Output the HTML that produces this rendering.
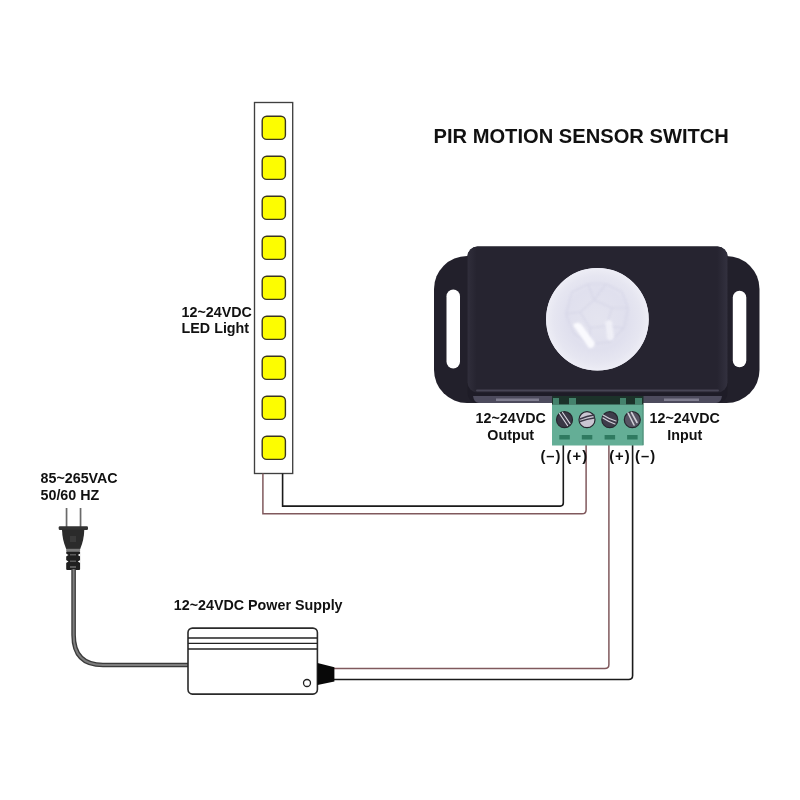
<!DOCTYPE html>
<html><head><meta charset="utf-8">
<style>
html,body{margin:0;padding:0;background:#fff;width:800px;height:800px;overflow:hidden}
svg{display:block;will-change:transform}
text{font-family:"Liberation Sans",sans-serif;font-weight:bold;fill:#111}
</style></head><body>
<svg width="800" height="800" viewBox="0 0 800 800">
<defs>
  <filter id="blur1" x="-20%" y="-20%" width="140%" height="140%"><feGaussianBlur stdDeviation="1"/></filter>
  <filter id="blur05" x="-20%" y="-20%" width="140%" height="140%"><feGaussianBlur stdDeviation="0.5"/></filter>
  <radialGradient id="dome" cx="0.5" cy="0.5" r="0.5">
    <stop offset="0" stop-color="#e4e4ef"/>
    <stop offset="0.6" stop-color="#e0e0ee"/>
    <stop offset="0.85" stop-color="#e6e6f1"/>
    <stop offset="1" stop-color="#ededf5"/>
  </radialGradient>
  <linearGradient id="bodyg" x1="0" y1="0" x2="1" y2="0">
    <stop offset="0" stop-color="#302e3b"/>
    <stop offset="0.035" stop-color="#262430"/>
    <stop offset="0.96" stop-color="#262430"/>
    <stop offset="1" stop-color="#33313f"/>
  </linearGradient>
</defs>

<!-- Title -->
<text transform="translate(433.5 143.2) scale(1 1.04)" font-size="20.15">PIR MOTION SENSOR SWITCH</text>

<!-- LED strip -->
<rect x="254.5" y="102.5" width="38.2" height="371" fill="#fff" stroke="#404040" stroke-width="1.35"/>
<g fill="#fdfd00" stroke="#3a3520" stroke-width="1.4">
  <rect x="262.2" y="116.2" width="23.2" height="23.2" rx="4.5"/>
  <rect x="262.2" y="156.2" width="23.2" height="23.2" rx="4.5"/>
  <rect x="262.2" y="196.2" width="23.2" height="23.2" rx="4.5"/>
  <rect x="262.2" y="236.2" width="23.2" height="23.2" rx="4.5"/>
  <rect x="262.2" y="276.2" width="23.2" height="23.2" rx="4.5"/>
  <rect x="262.2" y="316.2" width="23.2" height="23.2" rx="4.5"/>
  <rect x="262.2" y="356.2" width="23.2" height="23.2" rx="4.5"/>
  <rect x="262.2" y="396.2" width="23.2" height="23.2" rx="4.5"/>
  <rect x="262.2" y="436.2" width="23.2" height="23.2" rx="4.5"/>
</g>
<text transform="translate(181.6 316.6) scale(1 1.04)" font-size="14.3">12~24VDC</text>
<text transform="translate(181.6 333.1) scale(1 1.04)" font-size="14.3">LED Light</text>

<!-- wires from strip -->
<path d="M262.9 473.5 V513.8 H582 Q586.1 513.8 586.1 509.7 V445" fill="none" stroke="#80595d" stroke-width="1.5"/>
<path d="M282.6 473.5 V506.1 H560.3 Q563.3 506.1 563.3 503.1 V445" fill="none" stroke="#1a1a1a" stroke-width="1.6"/>

<!-- wires to PSU -->
<path d="M608.9 445 V664.5 Q608.9 668.5 604.9 668.5 H334" fill="none" stroke="#80595d" stroke-width="1.5"/>
<path d="M632.6 445 V675.5 Q632.6 679.5 628.6 679.5 H334" fill="none" stroke="#1a1a1a" stroke-width="1.6"/>

<!-- terminal labels -->
<text transform="translate(540.4 460.8) scale(1 1.04)" font-size="14.8" letter-spacing="1">(–)</text>
<text transform="translate(566.6 460.8) scale(1 1.04)" font-size="14.8" letter-spacing="1">(+)</text>
<text transform="translate(609.2 460.8) scale(1 1.04)" font-size="14.8" letter-spacing="1">(+)</text>
<text transform="translate(635.1 460.8) scale(1 1.04)" font-size="14.8" letter-spacing="1">(–)</text>

<text transform="translate(510.7 423.3) scale(1 1.04)" font-size="14.3" text-anchor="middle">12~24VDC</text>
<text transform="translate(510.7 439.6) scale(1 1.04)" font-size="14.3" text-anchor="middle">Output</text>
<text transform="translate(684.7 423.3) scale(1 1.04)" font-size="14.3" text-anchor="middle">12~24VDC</text>
<text transform="translate(684.7 439.6) scale(1 1.04)" font-size="14.3" text-anchor="middle">Input</text>

<!-- Sensor -->
<rect x="434" y="256" width="325.5" height="147" rx="33" fill="#22202b"/>
<rect x="446.5" y="289.6" width="13.5" height="78.8" rx="6.75" fill="#fff"/>
<rect x="732.8" y="290.8" width="13.5" height="76.5" rx="6.75" fill="#fff"/>
<rect x="467.5" y="246.5" width="260" height="156.5" rx="10" fill="#1e1c27"/>
<rect x="467.5" y="246.5" width="260" height="146" rx="10" fill="url(#bodyg)"/>
<rect x="476" y="389.6" width="243" height="2" rx="1" fill="#464454" filter="url(#blur05)"/>
<path d="M473 396 H722 Q721 403 716 403 H479 Q474 403 473 396 Z" fill="#4d4b5d"/>
<g fill="#8e8c9e" opacity="0.8" filter="url(#blur05)">
  <rect x="496" y="398.5" width="43" height="2.5"/>
  <rect x="664" y="398.5" width="35" height="2.5"/>
</g>
<circle cx="597.4" cy="319.2" r="51.3" fill="url(#dome)"/>
<circle cx="597.4" cy="319.2" r="50.3" fill="none" stroke="#ececf5" stroke-width="2"/>
<g fill="none" stroke="#cfcfe2" stroke-width="1.6" opacity="0.45" filter="url(#blur1)">
  <path d="M572 292 L588 284 L606 284 L622 292 L628 308 L624 328 L610 342 L590 344 L574 334 L566 314 Z"/>
  <path d="M588 284 L594 300 L606 284 M594 300 L580 312 L566 314 M594 300 L612 308 L628 308 M612 308 L606 326 L624 328 M606 326 L590 328 L580 312 M590 328 L590 344 M606 326 L610 342"/>
</g>
<path d="M573 325 Q577 321 581 324 L595 343 Q594 349 589 348 Z" fill="#fcfcff" opacity="0.95" filter="url(#blur1)"/>
<path d="M605 322 Q609 318 612 322 L614 338 Q611 343 607 339 Z" fill="#f4f4fa" opacity="0.8" filter="url(#blur1)"/>

<!-- Terminal block -->
<rect x="552" y="396" width="91.5" height="9" fill="#1c322a"/>
<g fill="#44826c">
  <rect x="553" y="398" width="6" height="6.5"/>
  <rect x="569" y="398" width="7" height="6.5"/>
  <rect x="620" y="398" width="6" height="6.5"/>
  <rect x="635" y="398" width="7" height="6.5"/>
</g>
<rect x="552" y="404.5" width="91.5" height="41" fill="#64ae96"/>
<line x1="643" y1="405" x2="643" y2="445" stroke="#4a8a74" stroke-width="1"/>
<g stroke="#26262e" stroke-width="1.2">
  <circle cx="564.5" cy="419.7" r="8" fill="#3a3846"/>
  <circle cx="587" cy="419.7" r="8" fill="#cac6d2"/>
  <circle cx="609.8" cy="419.7" r="8" fill="#3e3c4a"/>
  <circle cx="632.3" cy="419.7" r="8" fill="#555362"/>
</g>
<g fill="none" stroke-linecap="round" filter="url(#blur05)">
  <path d="M559.5 413.5 L567.5 425.5 M562.5 412.5 L570 423.5" stroke="#d8d6e0" stroke-width="1.2"/>
  <path d="M580 419 Q587 416 594 415 M580 421.5 Q587 419 594 418" stroke="#3a3846" stroke-width="1.5"/>
  <path d="M603 415 Q609 419 616 421 M603 418 Q609 422 615 424" stroke="#d0ced8" stroke-width="1.2"/>
  <path d="M628 413 L634 425 M631.5 412.5 L637 422.5" stroke="#cfcdd6" stroke-width="1.6"/>
</g>
<g fill="#2f7a60">
  <rect x="559.3" y="435" width="10.5" height="4.5"/>
  <rect x="581.8" y="435" width="10.5" height="4.5"/>
  <rect x="604.6" y="435" width="10.5" height="4.5"/>
  <rect x="627.1" y="435" width="10.5" height="4.5"/>
</g>

<!-- AC label -->
<text transform="translate(40.5 483) scale(1 1.04)" font-size="14.3">85~265VAC</text>
<text transform="translate(40.5 499.8) scale(1 1.04)" font-size="14.3">50/60 HZ</text>

<!-- plug -->
<rect x="65.7" y="508" width="1.7" height="19" fill="#6a6a6a"/>
<rect x="79.7" y="508" width="1.7" height="19" fill="#6a6a6a"/>
<rect x="58.7" y="526.3" width="29.3" height="3.6" rx="1.2" fill="#333"/>
<path d="M62 529.8 H84.3 Q84 540 80.2 549 H66.2 Q62.3 540 62 529.8 Z" fill="#2b2b2b"/>
<rect x="70" y="536" width="6" height="6" fill="#3a3a3a"/>
<rect x="66.2" y="548.8" width="13.9" height="2.8" fill="#7a7a7a"/>
<rect x="66.2" y="551.5" width="13.9" height="18.5" rx="1" fill="#1f1f1f"/>
<g fill="#fff">
  <path d="M66 553.5 L68.5 555 L66 556.5 Z"/>
  <path d="M80.3 553.5 L77.8 555 L80.3 556.5 Z"/>
  <path d="M66 560 L68.5 561.5 L66 563 Z"/>
  <path d="M80.3 560 L77.8 561.5 L80.3 563 Z"/>
</g>
<g fill="#5a5a5a">
  <rect x="70" y="554" width="6" height="1.5"/>
  <rect x="70" y="560.5" width="6" height="1.5"/>
  <rect x="70" y="566" width="6" height="2"/>
</g>

<!-- cord -->
<path d="M73.6 569 V635 Q73.6 665 103 665 H188" fill="none" stroke="#3a3a3a" stroke-width="4.6"/>
<path d="M73.6 569 V635 Q73.6 665 103 665 H188" fill="none" stroke="#7d7d7d" stroke-width="2"/>

<!-- PSU -->
<text transform="translate(173.8 610.2) scale(1 1.04)" font-size="14.3">12~24VDC Power Supply</text>
<rect x="188" y="628.1" width="129.4" height="66" rx="4.5" fill="#fff" stroke="#2a2a2a" stroke-width="1.6"/>
<g stroke="#222" stroke-width="1.4">
  <line x1="188" y1="638" x2="317" y2="638"/>
  <line x1="188" y1="643.4" x2="317" y2="643.4"/>
  <line x1="188" y1="649" x2="317" y2="649"/>
</g>
<circle cx="307" cy="683" r="3.5" fill="#fff" stroke="#222" stroke-width="1.3"/>
<path d="M317.5 663 L334.4 667.2 V681.5 L317.5 685 Z" fill="#080808"/>
</svg>
</body></html>
